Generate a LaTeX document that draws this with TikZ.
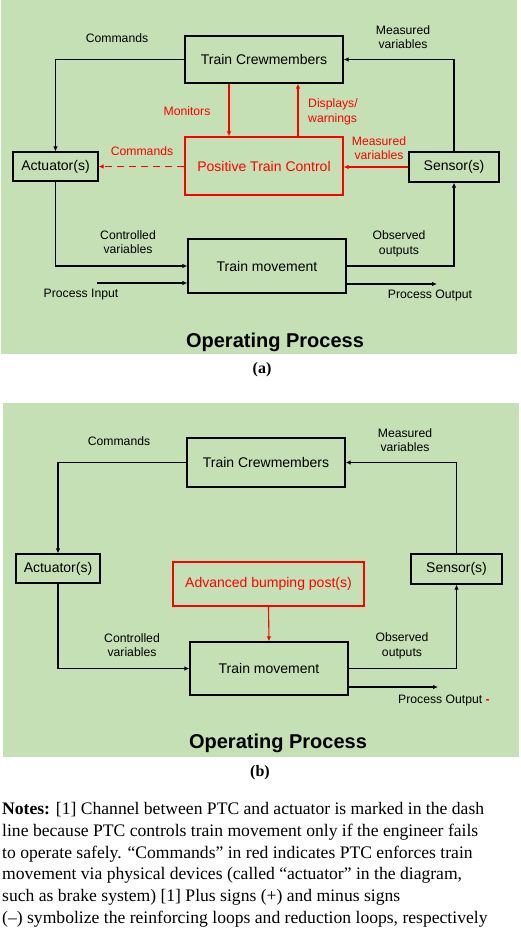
\documentclass[tikz,border=0pt]{standalone}
\usepackage{fontspec}
\setmainfont{Liberation Serif}
\newfontfamily\figfont{Liberation Sans}
\usetikzlibrary{arrows.meta}
\definecolor{panelgreen}{HTML}{C5E0B4}
\definecolor{ptcred}{HTML}{FF0000}

\begin{document}
\begin{tikzpicture}[x=1pt,y=-1pt,
    >={Latex[length=5pt,width=4.5pt]},
    block/.style={draw=black,line width=1.2pt,inner sep=0pt,font=\figfont\fontsize{14}{16}\selectfont},
    redblock/.style={block,draw=ptcred,text=ptcred},
    lbl/.style={font=\figfont\fontsize{12.2}{14.6}\selectfont,align=center,inner sep=0pt},
    redlbl/.style={lbl,text=ptcred},
    link/.style={line width=1.1pt,->},
    redlink/.style={link,draw=ptcred},
    title/.style={font=\figfont\bfseries\fontsize{20}{24}\selectfont,inner sep=0pt},
    caption/.style={font=\bfseries\fontsize{16}{19}\selectfont,inner sep=0pt}
]
    \useasboundingbox (0,0) rectangle (520,929);
    \fill[panelgreen] (1,0) rectangle (517,354);
    \fill[panelgreen] (3,403) rectangle (519,757);

    \node[block,minimum width=158pt,minimum height=47pt] (crewA) at (264,59.5) {Train Crewmembers};
    \node[redblock,minimum width=158pt,minimum height=58pt] (ptcA) at (264,166) {Positive Train Control};
    \node[block,minimum width=85pt,minimum height=29pt] (actA) at (55.5,166.5) {Actuator(s)};
    \node[block,minimum width=90pt,minimum height=30pt] (sensA) at (454,167) {Sensor(s)};
    \node[block,minimum width=158pt,minimum height=54pt] (moveA) at (267,266) {Train movement};
    \coordinate (inA) at (97,283);
    \coordinate (outA) at (437,284);

    \draw[link] (crewA.west) -| (actA.north);
    \draw[link] (sensA.north) |- (crewA.east);
    \draw[link] (actA.south) |- (moveA.west);
    \draw[link] (moveA.east) -| (sensA.south);
    \draw[link] (inA) -- (inA -| moveA.west);
    \draw[link] (outA -| moveA.east) -- (outA);
    \draw[redlink] ([xshift=-35pt]crewA.south) -- ([xshift=-35pt]ptcA.north);
    \draw[redlink] ([xshift=34pt]ptcA.north) -- ([xshift=34pt]crewA.south);
    \draw[redlink] (sensA.west) -- (sensA.west -| ptcA.east);
    \draw[redlink,dash pattern=on 7pt off 5pt] (actA.east -| ptcA.west) -- (actA.east);

    \node[lbl] (cmdA) at (117,38) {Commands};
    \node[lbl] (measA) at (403,37) {Measured\\variables};
    \node[lbl] (ctrlA) at (128,242) {Controlled\\variables};
    \node[lbl] (obsA) at (399,244) {Observed\\outputs};
    \node[lbl] (inlblA) at (81,295) {Process Input};
    \node[lbl] (outlblA) at (430,296) {Process Output};
    \node[redlbl] (monA) at (187,111) {Monitors};
    \node[redlbl,align=left,anchor=west] (dispA) at (308,112) {Displays/\\warnings};
    \node[redlbl] (rmeasA) at (379,148) {Measured\\variables};
    \node[redlbl] (rcmdA) at (142,151) {Commands};
    \node[title] (opA) at (275,342) {Operating Process};
    \node[caption] (capA) at (262,370) {(a)};

    \node[block,minimum width=158pt,minimum height=49pt] (crewB) at (266,462.5) {Train Crewmembers};
    \node[block,minimum width=84pt,minimum height=29pt] (actB) at (58,568.5) {Actuator(s)};
    \node[block,minimum width=91pt,minimum height=30pt] (sensB) at (456.5,569) {Sensor(s)};
    \node[redblock,minimum width=191pt,minimum height=44pt] (bumpB) at (268.5,584) {Advanced bumping post(s)};
    \node[block,minimum width=158pt,minimum height=53pt] (moveB) at (269,668.5) {Train movement};
    \coordinate (outB) at (438,687);

    \draw[link] (crewB.west) -| (actB.north);
    \draw[link] (sensB.north) |- (crewB.east);
    \draw[link] (actB.south) |- (moveB.west);
    \draw[link] (moveB.east) -| (sensB.south);
    \draw[link] (outB -| moveB.east) -- (outB);
    \draw[redlink] (bumpB.south) -- (moveB.north);

    \node[lbl] (cmdB) at (119,441) {Commands};
    \node[lbl] (measB) at (405,440) {Measured\\variables};
    \node[lbl] (ctrlB) at (132,645) {Controlled\\variables};
    \node[lbl] (obsB) at (402,646) {Observed\\outputs};
    \node[lbl] (outlblB) at (444,700) {Process Output \textcolor{ptcred}{\textbf{-}}};
    \node[title] (opB) at (278,743) {Operating Process};
    \node[caption] (capB) at (260,773) {(b)};

    \node[anchor=north west,inner sep=0pt,align=left,font=\fontsize{17.6}{21.8}\selectfont] (notes) at (2,802)
    {\textbf{Notes:} [1] Channel between PTC and actuator is marked in the dash\\
    line because PTC controls train movement only if the engineer fails\\
    to operate safely. “Commands” in red indicates PTC enforces train\\
    movement via physical devices (called “actuator” in the diagram,\\
    such as brake system) [1] Plus signs (+) and minus signs\\
    (–) symbolize the reinforcing loops and reduction loops, respectively};
\end{tikzpicture}
\end{document}
